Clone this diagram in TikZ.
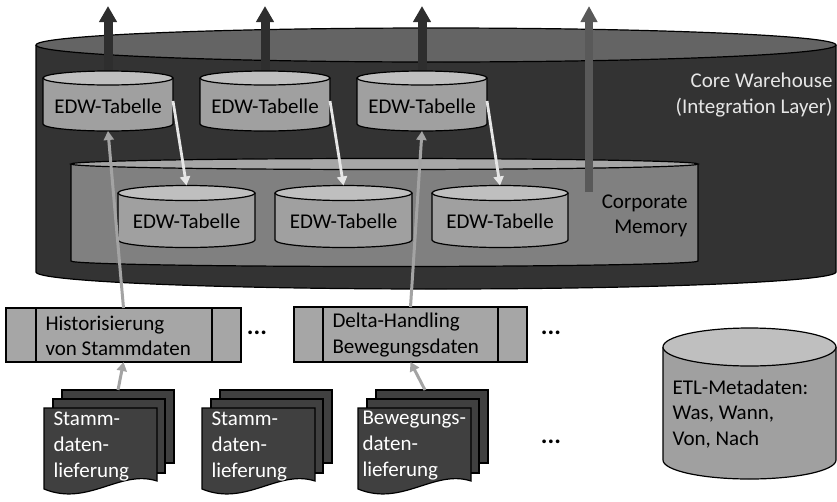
\documentclass[tikz,border=0pt]{standalone}
\usepackage{fontspec}
\setmainfont{Carlito}
\usetikzlibrary{arrows.meta,calc}
\definecolor{bigbody}{HTML}{333333}
\definecolor{bigtop}{HTML}{646464}
\definecolor{cmbody}{HTML}{808080}
\definecolor{cmtop}{HTML}{A6A6A6}
\definecolor{edwbody}{HTML}{A0A0A0}
\definecolor{edwtop}{HTML}{BFBFBF}
\definecolor{boxgray}{HTML}{A6A6A6}
\definecolor{docfill}{HTML}{404040}
\definecolor{arrowdark}{HTML}{2E2E2E}
\definecolor{arrowmid}{HTML}{595959}
\definecolor{arrowlight}{HTML}{E6E6E6}
\definecolor{arrowgray}{HTML}{A3A3A3}
\definecolor{cwtext}{HTML}{E6E6E6}
\newcommand\drawcyl[7]{%
  \pgfmathsetmacro\cylrx{(#2-#1)/2}%
  \pgfmathsetmacro\cylcx{(#1+#2)/2}%
  \filldraw[fill=#6, draw=black, line width=1.2pt] (#1,#3) -- (#1,#4) arc[start angle=180, end angle=0, x radius=\cylrx, y radius=#5] -- (#2,#3);
  \filldraw[fill=#7, draw=black, line width=1.2pt] (\cylcx,#3) ellipse[x radius=\cylrx, y radius=#5];
}
\newcommand\docstack[1]{%
  \begin{scope}[xshift=#1pt]
    \filldraw[fill=docfill, draw=black, line width=1.2pt] (62,390) rectangle (174,463);
    \filldraw[fill=docfill, draw=black, line width=1.2pt] (53,399) rectangle (165,473);
    \filldraw[fill=docfill, draw=black, line width=1.2pt] (44,408) -- (157,408) -- (157,481) .. controls (120,469) and (88,507) .. (44,489) -- cycle;
  \end{scope}
}
\begin{document}
\begin{tikzpicture}[x=1pt, y=-1pt,
  every node/.style={font=\fontsize{21}{25.5}\selectfont},
  anchorbox/.style={inner sep=0pt, outer sep=0pt, draw=none},
  procbox/.style={draw=black, line width=1.2pt, fill=boxgray, inner sep=0pt, outer sep=0pt},
  darkarrow/.style={draw=arrowdark, line width=9pt, -{Triangle[width=17pt,length=16pt]}},
  midarrow/.style={draw=arrowmid, line width=8pt, -{Triangle[width=16pt,length=16pt]}},
  lightarrow/.style={draw=arrowlight, line width=2.8pt, -{Triangle[width=10pt,length=9pt]}},
  grayarrow/.style={draw=arrowgray, line width=3pt, -{Triangle[width=10pt,length=9pt]}},
  doctext/.style={anchor=west, align=left, text=white, font=\fontsize{21}{26}\selectfont},
  dots/.style={font=\fontsize{25}{25.5}\selectfont\bfseries}
]
\useasboundingbox (0,0) rectangle (837,501);

% Core warehouse cylinder
\drawcyl{36}{836}{45}{272}{17}{bigbody}{bigtop}
\node[anchor=east, align=right, text=cwtext] (cw) at (836,95) {Core Warehouse\\(Integration Layer)};

% anchor boxes of EDW tables
\node[anchorbox, minimum width=130pt, minimum height=60pt] (e1) at (108,101) {};
\node[anchorbox, minimum width=130pt, minimum height=60pt] (e2) at (265,101) {};
\node[anchorbox, minimum width=130pt, minimum height=60pt] (e3) at (422,101) {};
\node[anchorbox, minimum width=137pt, minimum height=62pt] (b1) at (186.5,216.5) {};
\node[anchorbox, minimum width=137pt, minimum height=62pt] (b2) at (343.5,216.5) {};
\node[anchorbox, minimum width=136pt, minimum height=62pt] (b3) at (500,216.5) {};
\node[anchorbox, minimum width=627pt, minimum height=108pt] (cm) at (384.5,212) {};

% outgoing arrows
\coordinate (o1) at (108,6);
\coordinate (o2) at (265,6);
\coordinate (o3) at (422,6);
\draw[darkarrow] (e1.north) -- (o1);
\draw[darkarrow] (e2.north) -- (o2);
\draw[darkarrow] (e3.north) -- (o3);

% Corporate memory
\drawcyl{71}{698}{164}{261}{5.5}{cmbody}{cmtop}
\node[anchor=east, align=right] (cmt) at (691,216) {Corporate\\Memory};
\coordinate (cmsrc) at (589,192);
\coordinate (cmout) at (589,6);
\draw[midarrow] (cmsrc) -- (cmout);

% EDW tables top row
\drawcyl{43}{173}{78}{124}{7}{edwbody}{edwtop}
\drawcyl{200}{330}{78}{124}{7}{edwbody}{edwtop}
\drawcyl{357}{487}{78}{124}{7}{edwbody}{edwtop}
\node (e1t) at (108,106) {EDW-Tabelle};
\node (e2t) at (265,106) {EDW-Tabelle};
\node (e3t) at (422,106) {EDW-Tabelle};

% EDW tables bottom row
\drawcyl{118}{255}{193}{240}{7.5}{edwbody}{edwtop}
\drawcyl{275}{412}{193}{240}{7.5}{edwbody}{edwtop}
\drawcyl{432}{568}{193}{240}{7.5}{edwbody}{edwtop}
\node (b1t) at (186.5,221) {EDW-Tabelle};
\node (b2t) at (343.5,221) {EDW-Tabelle};
\node (b3t) at (500,221) {EDW-Tabelle};

% white arrows
\draw[lightarrow] (e1.east) -- (b1.north);
\draw[lightarrow] (e2.east) -- (b2.north);
\draw[lightarrow] (e3.east) -- (b3.north);

% process boxes
\node[procbox, minimum width=235pt, minimum height=54pt] (h1) at (123.5,335) {};
\draw[line width=1.2pt] (36,308) -- (36,362) (212,308) -- (212,362);
\node[anchor=west, align=left] (h1t) at (42,336) {Historisierung\\von Stammdaten};
\node[procbox, minimum width=233pt, minimum height=55pt] (d1) at (410.5,334.5) {};
\draw[line width=1.2pt] (323,307) -- (323,362) (498,307) -- (498,362);
\node[anchor=west, align=left] (d1t) at (329,335) {Delta-Handling\\Bewegungsdaten};

% gray arrows up
\draw[grayarrow] (h1.north) -- (e1.south);
\draw[grayarrow] (d1.north) -- (e3.south);

% documents
\docstack{0}
\docstack{158}
\docstack{314}
\node[anchorbox, minimum width=112pt, minimum height=73pt] (k1) at (118,426.5) {};
\node[anchorbox, minimum width=112pt, minimum height=73pt] (k2) at (276,426.5) {};
\node[anchorbox, minimum width=112pt, minimum height=73pt] (k3) at (432,426.5) {};
\node[doctext] (k1t) at (50,446) {Stamm-\\daten-\\lieferung};
\node[doctext] (k2t) at (208,446) {Stamm-\\daten-\\lieferung};
\node[doctext] (k3t) at (359,446) {Bewegungs-\\daten-\\lieferung};
\draw[grayarrow] (k1.north) -- (h1.south);
\draw[grayarrow] ($(k3.north)+(-7,0)$) -- (d1.south);

% dots
\node[dots] (dt1) at (257,333) {...};
\node[dots] (dt2) at (551,333) {...};
\node[dots] (dt3) at (551,442) {...};

% ETL metadata
\drawcyl{663}{836}{347}{460}{19}{edwbody}{edwtop}
\node[anchor=west, align=left] (etl) at (669,414) {ETL-Metadaten:\\Was, Wann,\\Von, Nach};
\end{tikzpicture}
\end{document}
